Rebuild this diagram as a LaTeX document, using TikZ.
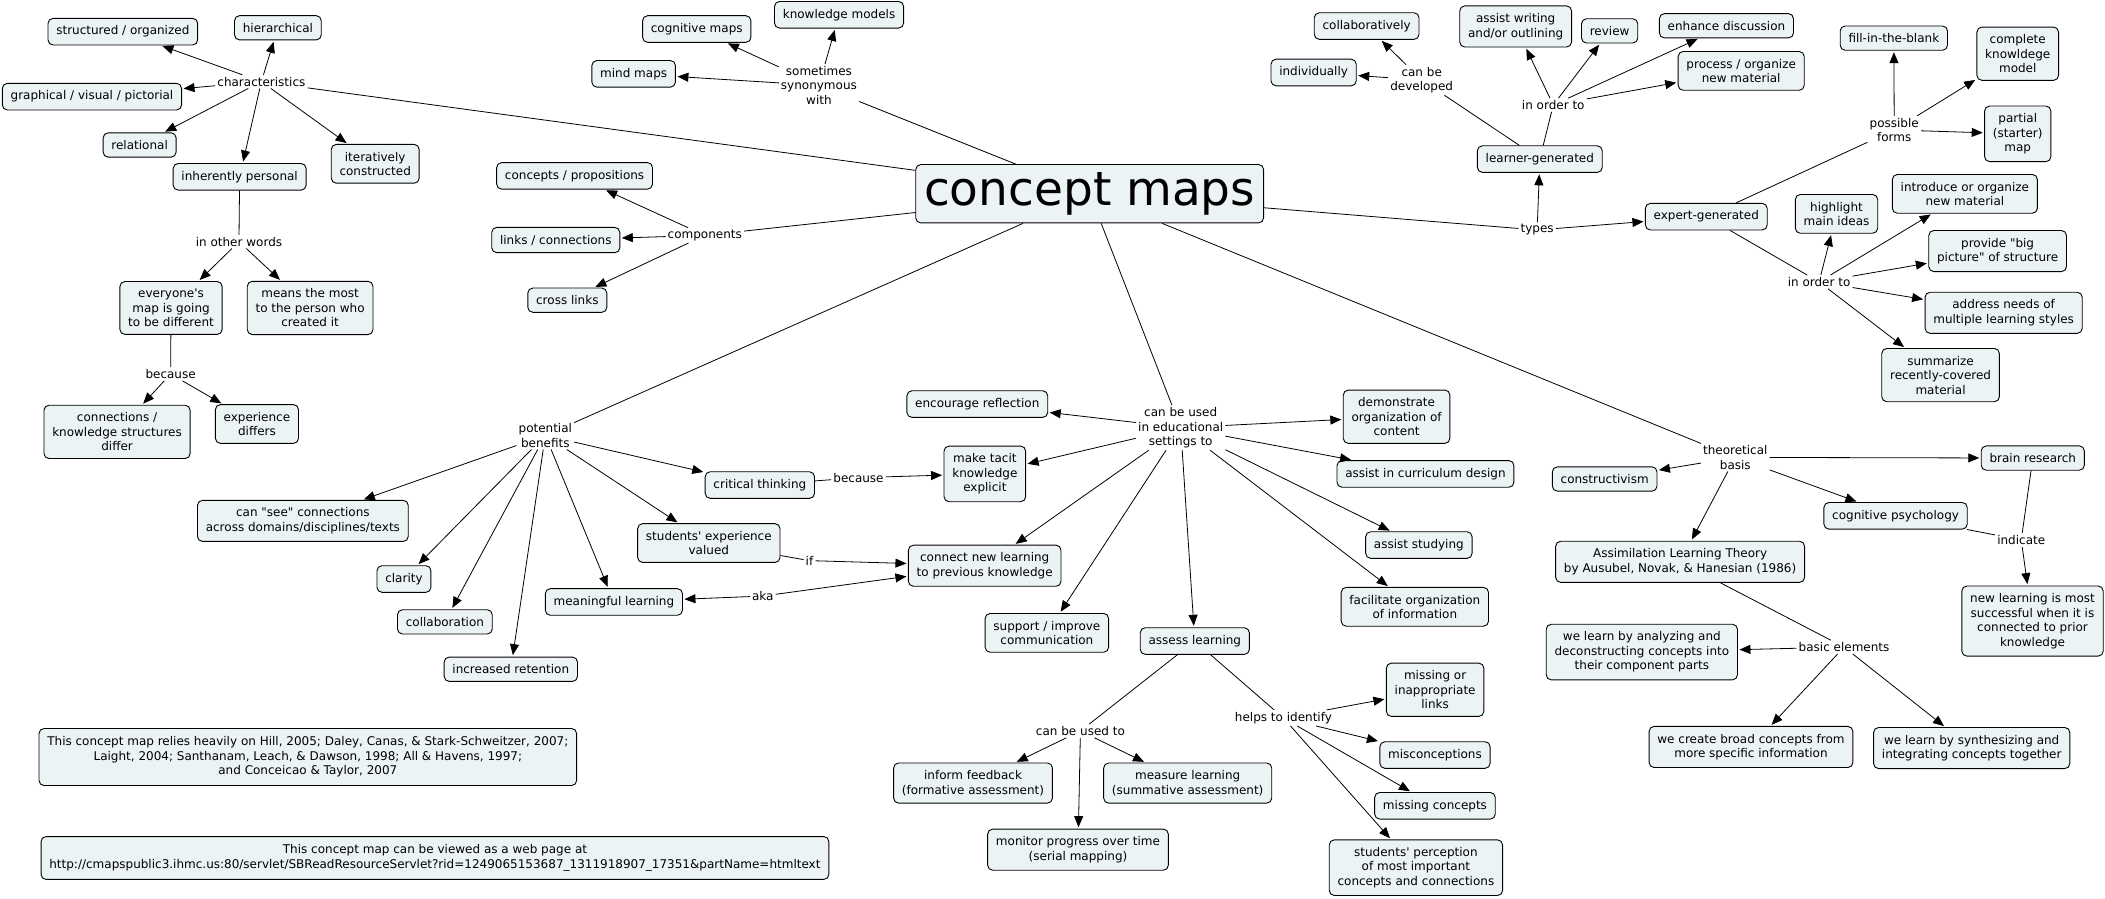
\documentclass[tikz,border=0pt]{standalone}
\usepackage{fontspec}
\setmainfont{DejaVu Sans}[Ligatures=TeXOff]
\usetikzlibrary{arrows.meta}
\definecolor{boxfill}{RGB}{236,243,245}
\begin{document}
\begin{tikzpicture}[x=1.3425pt,y=-1.3425pt,
  font=\fontsize{12}{14.5}\selectfont,
  cbox/.style={draw=black, line width=0.9pt, fill=boxfill, rounded corners=5pt,
    inner xsep=8.3pt, inner ysep=7.5pt, align=center},
  lbl/.style={inner sep=2pt, align=center},
  ln/.style={line width=0.8pt},
  ar/.style={line width=0.8pt, -{Triangle[length=11pt,width=9pt]}, shorten >=1.5pt}]
\fill[white] (0,0) rectangle (1568,669);
\useasboundingbox (0,0) rectangle (1568,669);

% central concept
\node[cbox, font=\fontsize{47}{50}\selectfont, inner ysep=7.8pt] (cm) at (811.7,144.3) {concept maps};

% characteristics
\node[lbl] (char) at (194.7,60.8) {characteristics};
\node[cbox] (struct) at (91.5,23.6) {structured / organized};
\node[cbox] (hier) at (207,20.7) {hierarchical};
\node[cbox] (graph) at (68.5,72) {graphical / visual / pictorial};
\node[cbox] (rel) at (104,108) {relational};
\node[cbox] (pers) at (178.5,131.7) {inherently personal};
\node[cbox] (iter) at (279.5,122) {iteratively\\constructed};
\node[lbl] (ow) at (178,180) {in other words};
\node[cbox] (every) at (127.4,229.4) {everyone's\\map is going\\to be different};
\node[cbox] (means) at (231,229.4) {means the most\\to the person who\\created it};
\node[lbl] (bec1) at (127.1,278.6) {because};
\node[cbox] (conn) at (87.2,321.7) {connections /\\knowledge structures\\differ};
\node[cbox] (expd) at (191.4,315.8) {experience\\differs};

% synonyms
\node[lbl] (syn) at (610,63.6) {sometimes\\synonymous\\with};
\node[cbox] (km) at (625,11) {knowledge models};
\node[cbox] (cogm) at (519,21.6) {cognitive maps};
\node[cbox] (mind) at (472,55) {mind maps};

% components
\node[lbl] (comp) at (525,175.3) {components};
\node[cbox] (cp) at (428,131) {concepts / propositions};
\node[cbox] (lc) at (414,178.8) {links / connections};
\node[cbox] (cl) at (422.6,223.6) {cross links};

% types
\node[lbl] (types) at (1145,171.3) {types};
\node[cbox] (lg) at (1147,118.5) {learner-generated};
\node[cbox] (eg) at (1271,161.4) {expert-generated};
\node[lbl] (cbd) at (1059,59.6) {can be\\developed};
\node[cbox] (collab) at (1018,19.4) {collaboratively};
\node[cbox] (indiv) at (978.5,54) {individually};
\node[lbl] (iot1) at (1157,78.2) {in order to};
\node[cbox] (aw) at (1129,19.7) {assist writing\\and/or outlining};
\node[cbox] (rev) at (1199,23) {review};
\node[cbox] (enh) at (1286,19.2) {enhance discussion};
\node[cbox] (proc) at (1297,52.8) {process / organize\\new material};
\node[lbl] (pf) at (1411,96.8) {possible\\forms};
\node[cbox] (fib) at (1410.7,28.4) {fill-in-the-blank};
\node[cbox] (ckm) at (1503,40) {complete\\knowldege\\model};
\node[cbox] (part) at (1503,99.7) {partial\\(starter)\\map};
\node[lbl] (iot2) at (1355,210) {in order to};
\node[cbox] (hl) at (1368,159.3) {highlight\\main ideas};
\node[cbox] (intro) at (1463.6,144.4) {introduce or organize\\new material};
\node[cbox] (big) at (1488,187) {provide "big\\picture" of structure};
\node[cbox] (addr) at (1492.5,233) {address needs of\\multiple learning styles};
\node[cbox] (summ) at (1445.5,279.4) {summarize\\recently-covered\\material};

% potential benefits
\node[lbl] (pb) at (406.2,324.3) {potential\\benefits};
\node[cbox] (see) at (225.6,388) {can "see" connections\\across domains/disciplines/texts};
\node[cbox] (clar) at (300.9,431.3) {clarity};
\node[cbox] (coll) at (331.4,463.2) {collaboration};
\node[cbox] (ret) at (380.5,498.5) {increased retention};
\node[cbox] (ml) at (457.3,448.4) {meaningful learning};
\node[cbox] (sev) at (528,404.5) {students' experience\\valued};
\node[cbox] (ct) at (566,361.3) {critical thinking};
\node[lbl] (bec2) at (639.5,355.8) {because};
\node[cbox] (tacit) at (733.6,353) {make tacit\\knowledge\\explicit};
\node[lbl] (if) at (603,417.6) {if};
\node[cbox] (cnl) at (733.5,421.4) {connect new learning\\to previous knowledge};
\node[lbl] (aka) at (568.2,444) {aka};

% educational settings
\node[lbl] (edu) at (879.5,318.6) {can be used\\in educational\\settings to};
\node[cbox] (refl) at (728,301) {encourage reflection};
\node[cbox] (sup) at (779.8,471.4) {support / improve\\communication};
\node[cbox] (assess) at (890,477.5) {assess learning};
\node[cbox] (demo) at (1040.3,310.4) {demonstrate\\organization of\\content};
\node[cbox] (curr) at (1061.8,353) {assist in curriculum design};
\node[cbox] (stud) at (1056.9,406) {assist studying};
\node[cbox] (fac) at (1053.9,452) {facilitate organization\\of information};
\node[lbl] (cbu) at (804.8,544.5) {can be used to};
\node[lbl] (hti) at (956,534.8) {helps to identify};
\node[cbox] (inf) at (724.8,583.3) {inform feedback\\(formative assessment)};
\node[cbox] (meas) at (884.7,583.3) {measure learning\\(summative assessment)};
\node[cbox] (mon) at (803,632.9) {monitor progress over time\\(serial mapping)};
\node[cbox] (mil) at (1069,513.8) {missing or\\inappropriate\\links};
\node[cbox] (misc) at (1068.9,562.4) {misconceptions};
\node[cbox] (mc) at (1068.9,600.2) {missing concepts};
\node[cbox] (perc) at (1054.7,646.3) {students' perception\\of most important\\concepts and connections};

% theoretical basis
\node[lbl] (tb) at (1292.6,340.7) {theoretical\\basis};
\node[cbox] (cons) at (1195.3,356.8) {constructivism};
\node[cbox] (brain) at (1514.2,341.2) {brain research};
\node[cbox] (cogp) at (1412,384.2) {cognitive psychology};
\node[lbl] (ind) at (1505.6,402.2) {indicate};
\node[cbox] (alt) at (1251.5,418.5) {Assimilation Learning Theory\\by Ausubel, Novak, \& Hanesian (1986)};
\node[cbox] (nl) at (1514,462.6) {new learning is most\\successful when it is\\connected to prior\\knowledge};
\node[lbl] (be) at (1373.6,482) {basic elements};
\node[cbox] (anal) at (1223,485.7) {we learn by analyzing and\\deconstructing concepts into\\their component parts};
\node[cbox] (broad) at (1304.3,556.4) {we create broad concepts from\\more specific information};
\node[cbox] (synth) at (1468.7,557.2) {we learn by synthesizing and\\integrating concepts together};

% footnotes
\node[cbox, inner ysep=8.2pt] (fn1) at (229.3,563.9) {This concept map relies heavily on Hill, 2005; Daley, Canas, \& Stark-Schweitzer, 2007;\\Laight, 2004; Santhanam, Leach, \& Dawson, 1998; All \& Havens, 1997;\\and Conceicao \& Taylor, 2007};
\node[cbox, inner ysep=8.2pt] (fn2) at (324,639.1) {This concept map can be viewed as a web page at\\http://cmapspublic3.ihmc.us:80/servlet/SBReadResourceServlet?rid=1249065153687\_1311918907\_17351\&partName=htmltext};

% connectors
\draw[ln] (cm) -- (char);
\foreach \t in {struct,hier,graph,rel,pers,iter} \draw[ar] (char) -- (\t);
\draw[ln] (pers) -- (ow);
\draw[ar] (ow) -- (every);
\draw[ar] (ow) -- (means);
\draw[ln] (every) -- (bec1);
\draw[ar] (bec1) -- (conn);
\draw[ar] (bec1) -- (expd);

\draw[ln] (cm) -- (syn);
\foreach \t in {km,cogm,mind} \draw[ar] (syn) -- (\t);

\draw[ln] (cm) -- (comp);
\foreach \t in {cp,lc,cl} \draw[ar] (comp) -- (\t);

\draw[ln] (cm) -- (types);
\draw[ar] (types) -- (lg);
\draw[ar] (types) -- (eg);
\draw[ln] (lg) -- (cbd);
\draw[ar] (cbd) -- (collab);
\draw[ar] (cbd) -- (indiv);
\draw[ln] (lg) -- (iot1);
\foreach \t in {aw,rev,enh,proc} \draw[ar] (iot1) -- (\t);
\draw[ln] (eg) -- (pf);
\foreach \t in {fib,ckm,part} \draw[ar] (pf) -- (\t);
\draw[ln] (eg) -- (iot2);
\foreach \t in {hl,intro,big,addr,summ} \draw[ar] (iot2) -- (\t);

\draw[ln] (cm) -- (pb);
\foreach \t in {see,clar,coll,ret,ml,sev,ct} \draw[ar] (pb) -- (\t);
\draw[ln] (ct) -- (bec2);
\draw[ar] (bec2) -- (tacit);
\draw[ln] (sev) -- (if);
\draw[ar] (if) -- (cnl);
\draw[ar] (aka) -- (cnl);
\draw[ar] (aka) -- (ml);

\draw[ln] (cm) -- (edu);
\foreach \t in {refl,tacit,cnl,sup,assess,demo,curr,stud,fac} \draw[ar] (edu) -- (\t);
\draw[ln] (assess) -- (cbu);
\foreach \t in {inf,meas,mon} \draw[ar] (cbu) -- (\t);
\draw[ln] (assess) -- (hti);
\foreach \t in {mil,misc,mc,perc} \draw[ar] (hti) -- (\t);

\draw[ln] (cm) -- (tb);
\foreach \t in {cons,brain,cogp,alt} \draw[ar] (tb) -- (\t);
\draw[ln] (cogp) -- (ind);
\draw[ln] (brain) -- (ind);
\draw[ar] (ind) -- (nl);
\draw[ln] (alt) -- (be);
\foreach \t in {anal,broad,synth} \draw[ar] (be) -- (\t);
\end{tikzpicture}
\end{document}
